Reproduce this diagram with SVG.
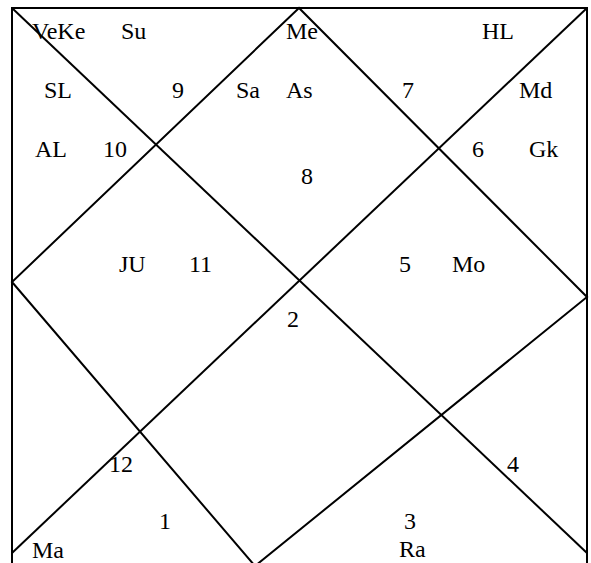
<svg xmlns="http://www.w3.org/2000/svg" width="591" height="563" viewBox="0 0 591 563">
<style>
.ln{stroke:#000;stroke-width:2;fill:none}
text{font-family:"Liberation Serif","Times New Roman",serif;font-size:24px;fill:#000}
</style>
<rect x="0" y="0" width="591" height="563" fill="#fff"/>
<g id="connectors">
<polyline class="ln" points="12,580 12,8 587,8 587,580"/>
<line class="ln" x1="12" y1="8" x2="587" y2="553"/>
<line class="ln" x1="587" y1="8" x2="12" y2="553"/>
<polygon class="ln" points="299,8 12,282 255,566 587,297"/>
</g>
<g id="house1"><text x="159" y="529">1</text><text x="32" y="558">Ma</text></g>
<g id="house2"><text x="287" y="327">2</text></g>
<g id="house3"><text x="404" y="529">3</text><text x="399" y="557">Ra</text></g>
<g id="house4"><text x="507" y="472">4</text></g>
<g id="house5"><text x="399" y="272">5</text><text x="452" y="272">Mo</text></g>
<g id="house6"><text x="472" y="157">6</text><text x="529" y="157">Gk</text></g>
<g id="house7"><text x="402" y="98">7</text><text x="482" y="39">HL</text><text x="519" y="98">Md</text></g>
<g id="house8"><text x="301" y="184">8</text><text x="286" y="39">Me</text><text x="236" y="98">Sa</text><text x="286" y="98">As</text></g>
<g id="house9"><text x="172" y="98">9</text><text x="32" y="39">VeKe</text><text x="121" y="39">Su</text><text x="44" y="98">SL</text></g>
<g id="house10"><text x="103" y="157">10</text><text x="35" y="157">AL</text></g>
<g id="house11"><text x="189" y="272">11</text><text x="119" y="272">JU</text></g>
<g id="house12"><text x="109" y="472">12</text></g>
</svg>
